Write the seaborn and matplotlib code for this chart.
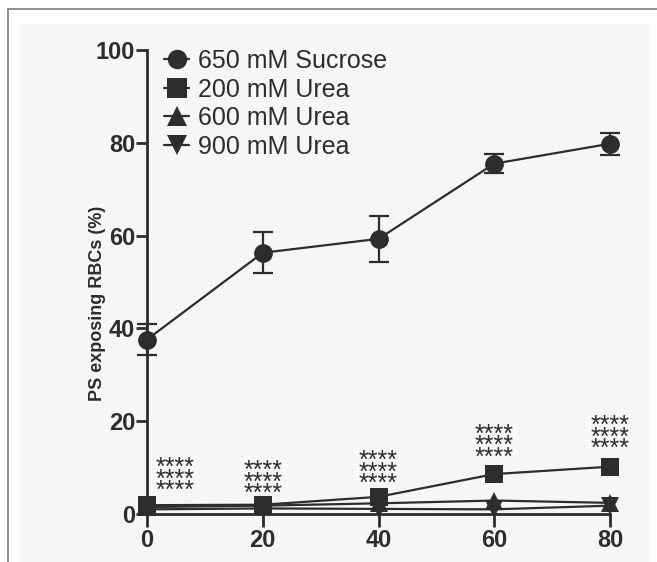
import numpy as np
import pandas as pd
import matplotlib
matplotlib.use("Agg")
import matplotlib.pyplot as plt
import seaborn as sns
from matplotlib.lines import Line2D
from matplotlib.patches import Rectangle

# ---------------- data ----------------
time_min = [0, 20, 40, 60, 80]
sucrose_650 = [37.6, 56.3, 59.3, 75.5, 79.8]
sucrose_650_err = [3.3, 4.4, 4.9, 2.0, 2.4]
urea_200 = [1.9, 2.0, 3.7, 8.6, 10.2]
urea_600 = [1.5, 1.8, 2.3, 2.9, 2.4]
urea_900 = [1.0, 1.2, 1.1, 1.0, 1.8]
series_names = ["650 mM Sucrose", "200 mM Urea", "600 mM Urea", "900 mM Urea"]
series_markers = ["o", "s", "^", "v"]
sig_label = "****\n****\n****"
x_ticks = [0, 20, 40, 60, 80]
y_ticks = [0, 20, 40, 60, 80, 100]
y_label = "PS exposing RBCs (%)"

# ---------------- style ----------------
sns.set_theme(style="ticks")
plt.rcParams["font.family"] = ["Liberation Sans", "DejaVu Sans"]
ink = "#2d2d2d"

fig = plt.figure(figsize=(6.57, 5.62), dpi=100)
fig.patch.set_facecolor("white")
W, H = 657, 562
# scanned page panel and frame
fig.add_artist(Rectangle((20 / W, 0), (649 - 20) / W, (H - 24) / H,
                         transform=fig.transFigure, facecolor="#f6f6f6",
                         edgecolor="none", zorder=-10))
fig.add_artist(Line2D([8 / W, 1], [1 - 9 / H, 1 - 9 / H], transform=fig.transFigure,
                      color="#8a8a8a", lw=1.3))
fig.add_artist(Line2D([8 / W, 8 / W], [0, 1 - 9 / H], transform=fig.transFigure,
                      color="#8a8a8a", lw=1.3))

ax = fig.add_axes([147 / W, 48 / H, 463 / W, 464 / H])
ax.set_facecolor("none")

values = sucrose_650 + urea_200 + urea_600 + urea_900
df = pd.DataFrame({
    "time": time_min * 4,
    "value": values,
    "series": np.repeat(series_names, len(time_min)),
})

sns.lineplot(data=df, x="time", y="value", hue="series", style="series",
             hue_order=series_names[::-1], style_order=series_names[::-1],
             markers=dict(zip(series_names, series_markers)), dashes=False,
             palette=[ink] * 4, markersize=13.5, markeredgewidth=0,
             linewidth=1.6, legend=False, ax=ax, clip_on=False, zorder=3)

ax.errorbar(time_min, sucrose_650, yerr=sucrose_650_err, fmt="none",
            ecolor=ink, elinewidth=1.6, capsize=7.5, capthick=1.6,
            clip_on=False, zorder=2)

# significance asterisks
sig_x = [4.8, 20, 40, 60, 80]
sig_y = [3.4, 2.8, 4.9, 10.6, 12.5]
for xx, yy in zip(sig_x, sig_y):
    ax.text(xx, yy, sig_label, ha="center", va="baseline", fontsize=18,
            linespacing=0.34, color=ink)

# legend
handles = [Line2D([], [], color=ink, marker=m, markersize=14, markeredgewidth=0, lw=1.6)
           for m in series_markers]
ax.legend(handles, series_names, loc="upper left", bbox_to_anchor=(0.037, 1.002),
          frameon=False, fontsize=18, handlelength=1.0, handletextpad=0.35,
          borderpad=0, borderaxespad=0, labelspacing=0.18, labelcolor=ink)

ax.set_xlim(0, 80)
ax.set_ylim(0, 100)
ax.set_xticks(x_ticks)
ax.set_yticks(y_ticks)
ax.set_xticklabels([str(t) for t in x_ticks], fontweight="bold", fontsize=17, color=ink)
ax.set_yticklabels([str(t) for t in y_ticks], fontweight="bold", fontsize=17, color=ink)
ax.tick_params(axis="x", length=9, width=2, color=ink, pad=2)
ax.tick_params(axis="y", length=8, width=2, color=ink, pad=0.5)
sns.despine(ax=ax)
for s in ["left", "bottom"]:
    ax.spines[s].set_linewidth(2)
    ax.spines[s].set_color(ink)
ax.set_xlabel("")
ax.set_ylabel(y_label, fontsize=13, fontweight="bold", color=ink)
ax.yaxis.set_label_coords(-0.088, 0.455)

fig.savefig("out.png", dpi=100, facecolor="white")
